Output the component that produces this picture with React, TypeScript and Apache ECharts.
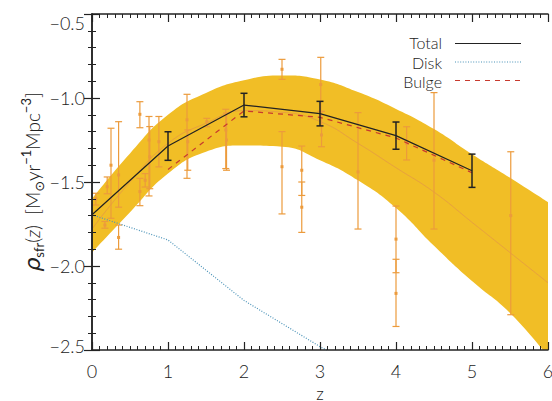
import React, { useEffect, useRef } from "react";
import * as echarts from "echarts";

// Model envelope (shaded) and its median curve
const bandZ = [0, 0.5, 1, 1.5, 2, 2.5, 3, 3.5, 4, 4.5, 5, 5.5, 6];
const bandLower = [-1.92, -1.68, -1.45, -1.32, -1.283, -1.29, -1.37, -1.49, -1.655, -1.88, -2.09, -2.28, -2.54];
const bandUpper = [-1.6, -1.33, -1.1, -0.97, -0.895, -0.866, -0.89, -0.965, -1.065, -1.185, -1.335, -1.475, -1.62];
const bandMedian = [-1.78, -1.5, -1.27, -1.15, -1.075, -1.085, -1.14, -1.27, -1.415, -1.56, -1.74, -1.92, -2.1];

// Component curves
const compZ = [0, 1, 2, 3, 4, 5];
const totalVal = [-1.695, -1.286, -1.042, -1.093, -1.224, -1.433];
const diskVal = [-1.695, -1.845, -2.205, -2.48, -2.72, -3.0];
const bulgeZ = [1, 2, 3, 4, 5];
const bulgeVal = [-1.425, -1.077, -1.115, -1.238, -1.445];

// Binned totals with errors
const totalErrZ = [1, 2, 3, 4, 5];
const totalErrVal = [-1.286, -1.042, -1.093, -1.224, -1.433];
const totalErr = [0.085, 0.07, 0.073, 0.081, 0.099];

// Observational compilation
const obsZ = [0.05, 0.17, 0.2, 0.25, 0.35, 0.35, 0.63, 0.63, 0.7, 0.75, 0.76, 0.88, 1.25, 1.26, 1.51, 1.76, 1.77, 2.5, 2.5, 2.76, 2.76, 3.01, 3.02, 3.5, 4.0, 4.0, 4.14, 4.5, 5.51];
const obsVal = [-1.6, -1.756, -1.528, -1.4, -1.458, -1.83, -1.097, -1.557, -1.49, -1.25, -1.35, -1.26, -1.13, -1.26, -1.141, -1.19, -1.25, -0.829, -1.409, -1.43, -1.65, -0.92, -1.22, -1.44, -1.84, -2.163, -1.27, -1.37, -1.7];
const obsLo = [-1.637, -1.775, -1.57, -1.716, -1.65, -1.9, -1.177, -1.641, -1.53, -1.583, -1.54, -1.41, -1.478, -1.43, -1.171, -1.42, -1.43, -0.889, -1.69, -1.58, -1.8, -1.08, -1.29, -1.78, -2.04, -2.36, -1.369, -1.78, -2.29];
const obsHi = [-1.567, -1.735, -1.47, -1.18, -1.141, -1.756, -1.022, -1.478, -1.45, -1.11, -1.17, -1.11, -0.978, -1.19, -1.121, -1.067, -1.09, -0.77, -1.2, -1.286, -1.5, -0.758, -1.08, -1.087, -1.643, -1.96, -1.171, -0.968, -1.32];

const xTicks = [0, 1, 2, 3, 4, 5, 6];
const yTicks = [-2.5, -2.0, -1.5, -1.0, -0.5];

const FONT = "Lato, 'DejaVu Sans', sans-serif";
const INK = "#222222";
const BAND = "#F1BE26";
const ORANGE = "#EC9B3C";

function errorBars(color: string, capHalf: number, lw: number, marker: boolean) {
  return (params: any, api: any) => {
    const x = api.value(0);
    const v = api.value(1);
    const lo = api.value(2);
    const hi = api.value(3);
    const pLo = api.coord([x, lo]);
    const pHi = api.coord([x, hi]);
    const p = api.coord([x, v]);
    const st = { stroke: color, lineWidth: lw };
    const children: any[] = [
      { type: "line", shape: { x1: pLo[0], y1: pLo[1], x2: pHi[0], y2: pHi[1] }, style: st },
      { type: "line", shape: { x1: pLo[0] - capHalf, y1: pLo[1], x2: pLo[0] + capHalf, y2: pLo[1] }, style: st },
      { type: "line", shape: { x1: pHi[0] - capHalf, y1: pHi[1], x2: pHi[0] + capHalf, y2: pHi[1] }, style: st },
    ];
    if (marker) {
      children.push({ type: "rect", shape: { x: p[0] - 1.5, y: p[1] - 1.5, width: 3, height: 3 }, style: { fill: color } });
    }
    return { type: "group", children };
  };
}

const fmt = (v: number) => v.toFixed(1).replace("-", "\u2212");

export default function App() {
  const ref = useRef<HTMLDivElement>(null);

  useEffect(() => {
    if (!ref.current) return;
    const chart = echarts.init(ref.current, null, { renderer: "svg" });

    const tickAxisCommon = {
      z: 10,
      axisLine: { show: true, lineStyle: { color: INK, width: 1.5 } },
      axisTick: { show: true, inside: true, length: 8, lineStyle: { color: INK, width: 1.2 } },
      minorTick: { show: true, length: 4, lineStyle: { color: INK, width: 1 } },
      splitLine: { show: false },
    };
    const labelFont = { color: INK, fontSize: 18, fontFamily: FONT, fontWeight: 300 };
    const keyFont = { fontSize: 16, lineHeight: 16, fontFamily: FONT, fontWeight: 300, fill: INK, align: "right", verticalAlign: "middle" };

    const option: any = {
      animation: false,
      backgroundColor: "#ffffff",
      grid: { left: 92, right: 4, top: 14, bottom: 51, containLabel: false, outerBoundsMode: "none" },
      xAxis: [
        {
          type: "value",
          min: xTicks[0],
          max: xTicks[xTicks.length - 1],
          interval: 1,
          ...tickAxisCommon,
          minorTick: { ...tickAxisCommon.minorTick, splitNumber: 10 },
          axisLabel: { ...labelFont, margin: 12 },
          name: "z",
          nameLocation: "middle",
          nameGap: 27,
          nameTextStyle: { ...labelFont, fontSize: 17, lineHeight: 17 },
        },
        {
          type: "value",
          position: "top",
          min: xTicks[0],
          max: xTicks[xTicks.length - 1],
          interval: 1,
          ...tickAxisCommon,
          minorTick: { ...tickAxisCommon.minorTick, splitNumber: 10 },
          axisLabel: { show: false },
        },
      ],
      yAxis: [
        {
          type: "value",
          min: yTicks[0],
          max: yTicks[yTicks.length - 1],
          interval: 0.5,
          ...tickAxisCommon,
          minorTick: { ...tickAxisCommon.minorTick, splitNumber: 5 },
          axisLabel: {
            ...labelFont,
            margin: 7,
            formatter: (v: number) => {
              if (Math.abs(v - yTicks[yTicks.length - 1]) < 1e-6) return "{top|" + fmt(v) + "}";
              if (Math.abs(v - yTicks[0]) < 1e-6) return "{bot|" + fmt(v) + "}";
              return fmt(v);
            },
            rich: {
              top: { ...labelFont, padding: [17, 0, 0, 0] },
              bot: { ...labelFont, padding: [0, 0, 8, 0] },
            },
          },
        },
        {
          type: "value",
          position: "right",
          min: yTicks[0],
          max: yTicks[yTicks.length - 1],
          interval: 0.5,
          ...tickAxisCommon,
          minorTick: { ...tickAxisCommon.minorTick, splitNumber: 5 },
          axisLabel: { show: false },
        },
      ],
      graphic: [
        {
          type: "text",
          x: 32,
          y: 182,
          rotation: Math.PI / 2,
          style: {
            text: "{rho|\u03c1}{sub|sfr}{n|(}{it|z}{n|)  [M}{sub|\u2299}{n|yr}{sup|\u22121}{n|Mpc}{sup|\u22123}{n|]}",
            align: "center",
            verticalAlign: "middle",
            rich: {
              rho: { fontSize: 22, fontStyle: "italic", fontFamily: "'DejaVu Sans', sans-serif", fill: INK, lineHeight: 26, verticalAlign: "middle" },
              it: { fontSize: 19, fontStyle: "italic", fontFamily: FONT, fontWeight: 300, fill: INK, lineHeight: 26, verticalAlign: "middle" },
              n: { fontSize: 19, fontFamily: FONT, fontWeight: 300, fill: INK, lineHeight: 26, verticalAlign: "middle" },
              sub: { fontSize: 13, fontFamily: FONT, fill: INK, lineHeight: 13, verticalAlign: "bottom" },
              sup: { fontSize: 13, fontFamily: FONT, fill: INK, lineHeight: 13, verticalAlign: "top" },
            },
          },
        },
        // key
        { type: "text", x: 442, y: 42.5, style: { text: "Total", ...keyFont } },
        { type: "text", x: 442, y: 62, style: { text: "Disk", ...keyFont } },
        { type: "text", x: 442, y: 81.5, style: { text: "Bulge", ...keyFont } },
        { type: "line", shape: { x1: 455, y1: 43.5, x2: 521, y2: 43.5 }, style: { stroke: INK, lineWidth: 1.2 } },
        { type: "line", shape: { x1: 455, y1: 62, x2: 521, y2: 62 }, style: { stroke: "#4B93B8", lineWidth: 1.2, lineDash: [1, 1.6] } },
        { type: "line", shape: { x1: 455, y1: 80.5, x2: 521, y2: 80.5 }, style: { stroke: "#C83A2E", lineWidth: 1.2, lineDash: [5, 5] } },
      ],
      series: [
        {
          // envelope: fill below the upper edge ...
          name: "bandUpper",
          type: "line",
          smooth: 0.5,
          symbol: "none",
          silent: true,
          lineStyle: { opacity: 0 },
          areaStyle: { color: BAND, opacity: 1, origin: "start" },
          data: bandZ.map((z, i) => [z, bandUpper[i]]),
          z: 1,
        },
        {
          // ... then clear below the lower edge
          name: "bandLower",
          type: "line",
          smooth: 0.5,
          symbol: "none",
          silent: true,
          lineStyle: { opacity: 0 },
          areaStyle: { color: "#ffffff", opacity: 1, origin: "start" },
          data: bandZ.map((z, i) => [z, bandLower[i]]),
          z: 1,
        },
        {
          name: "median",
          type: "line",
          smooth: 0.5,
          symbol: "none",
          lineStyle: { color: "#E59A45", width: 1, opacity: 0.8 },
          data: bandZ.map((z, i) => [z, bandMedian[i]]),
          z: 2,
        },
        {
          name: "obs",
          type: "custom",
          clip: true,
          renderItem: errorBars(ORANGE, 3.5, 1.2, true),
          encode: { x: 0, y: [1, 2, 3] },
          data: obsZ.map((z, i) => [z, obsVal[i], obsLo[i], obsHi[i]]),
          itemStyle: { opacity: 0.85 },
          z: 3,
        },
        {
          name: "Disk",
          type: "line",
          symbol: "none",
          lineStyle: { color: "#4B93B8", width: 1.2, type: [1, 1.6] },
          data: compZ.map((z, i) => [z, diskVal[i]]),
          z: 4,
        },
        {
          name: "Bulge",
          type: "line",
          symbol: "none",
          lineStyle: { color: "#C83A2E", width: 1.2, type: [5, 5] },
          data: bulgeZ.map((z, i) => [z, bulgeVal[i]]),
          z: 4,
        },
        {
          name: "Total",
          type: "line",
          symbol: "none",
          lineStyle: { color: INK, width: 1.2 },
          data: compZ.map((z, i) => [z, totalVal[i]]),
          z: 5,
        },
        {
          name: "totalErr",
          type: "custom",
          clip: true,
          renderItem: errorBars(INK, 3.5, 1.5, false),
          encode: { x: 0, y: [1, 2, 3] },
          data: totalErrZ.map((z, i) => [z, totalErrVal[i], totalErrVal[i] - totalErr[i], totalErrVal[i] + totalErr[i]]),
          z: 6,
        },
      ],
    };

    chart.setOption(option);
    return () => chart.dispose();
  }, []);

  return <div ref={ref} style={{ position: "absolute", left: 0, top: 0, width: 552, height: 401 }} />;
}
